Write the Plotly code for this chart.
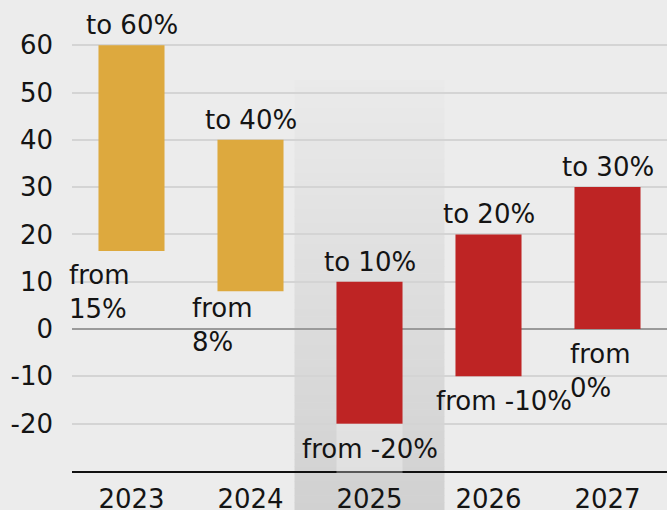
import plotly.graph_objects as go

# ---- data ----
years = ["2023", "2024", "2025", "2026", "2027"]
low_values = [16.5, 8, -20, -10, 0]
high_values = [60, 40, 10, 20, 30]
to_labels = ["to 60%", "to 40%", "to 10%", "to 20%", "to 30%"]
from_labels = ["from<br>15%", "from<br>8%", "from -20%", "from -10%", "from<br>0%"]
bar_colors = ["#DDA93E", "#DDA93E", "#BE2424", "#BE2424", "#BE2424"]
y_ticks = [-20, -10, 0, 10, 20, 30, 40, 50, 60]

# ---- style ----
BG = "#ECECEC"
FONT = "DejaVu Sans"
FS = 26
TXT = "#141414"
Y_MIN, Y_MAX = -30, 69.55
BAR_W = 0.555
highlight_idx = 2
from_anchor = ["left", "left", "center", "center", "left"]
from_dx = [-65, -61, 0, 15, -40]
from_dy = [-7, 0, -8, -8, -8]

fig = go.Figure()
fig.add_trace(go.Bar(
    x=years,
    y=[h - l for h, l in zip(high_values, low_values)],
    base=low_values,
    marker=dict(color=bar_colors, line=dict(width=0)),
    width=BAR_W,
    hoverinfo="skip",
))

# gradient highlight band behind 2025
n_strips = 60
top_px, bot_px = 80, 510
plot_bottom = 471.4
plot_h = plot_bottom
c0, c1 = (234, 234, 234), (209, 209, 209)
band_x0 = (highlight_idx + 0.5 - 0.63) / len(years)
band_x1 = (highlight_idx + 0.5 + 0.63) / len(years)
shapes = []
for i in range(n_strips):
    t = (i + 0.5) / n_strips
    col = tuple(round(a + (b - a) * t) for a, b in zip(c0, c1))
    ya = top_px + (bot_px - top_px) * i / n_strips
    yb = top_px + (bot_px - top_px) * (i + 1) / n_strips + 0.5
    shapes.append(dict(
        type="rect", xref="paper", yref="paper", layer="below",
        x0=band_x0, x1=band_x1,
        y0=(plot_bottom - yb) / plot_h, y1=(plot_bottom - ya) / plot_h,
        fillcolor="rgb(%d,%d,%d)" % col, line=dict(width=0),
    ))
# lighter block under the highlighted bar
shapes.append(dict(
    type="rect", xref="x", yref="paper", layer="above",
    x0=highlight_idx - BAR_W / 2, x1=highlight_idx + BAR_W / 2,
    y0=-0.004, y1=(low_values[highlight_idx] - Y_MIN) / (Y_MAX - Y_MIN),
    fillcolor="rgba(255,255,255,0.3)", line=dict(width=0),
))

annotations = []
for i, yr in enumerate(years):
    annotations.append(dict(
        x=i, y=high_values[i], text=to_labels[i], showarrow=False,
        xanchor="center", yanchor="bottom", yshift=3,
        font=dict(family=FONT, size=FS, color=TXT),
    ))
    annotations.append(dict(
        x=i, y=low_values[i], text=from_labels[i], showarrow=False,
        xanchor=from_anchor[i], yanchor="top", align="left",
        xshift=from_dx[i], yshift=from_dy[i],
        font=dict(family=FONT, size=FS, color=TXT),
    ))

fig.update_layout(
    width=667, height=510,
    margin=dict(l=72, r=0, t=0, b=510 - 471.4, autoexpand=False),
    paper_bgcolor=BG, plot_bgcolor="rgba(0,0,0,0)",
    showlegend=False, bargap=1 - BAR_W,
    shapes=shapes, annotations=annotations,
    font=dict(family=FONT, size=FS, color=TXT),
)
fig.update_xaxes(
    type="category", range=[-0.5, len(years) - 0.5], automargin=False,
    showgrid=False, showline=True, linecolor="#111111", linewidth=1.5,
    ticks="", ticklabelstandoff=4, tickfont=dict(family=FONT, size=FS, color=TXT),
    fixedrange=True,
)
fig.update_yaxes(
    range=[Y_MIN, Y_MAX], tickvals=y_ticks, ticktext=[str(v) for v in y_ticks],
    automargin=False,
    showgrid=True, gridcolor="#D4D4D4", gridwidth=1.5,
    zeroline=True, zerolinecolor="#9A9A9A", zerolinewidth=1.5,
    showline=False, ticks="", ticklabelstandoff=18,
    tickfont=dict(family=FONT, size=FS, color=TXT), fixedrange=True,
)

fig.write_html("out.html", config={"displayModeBar": False},
               post_script="document.body.style.margin='0';")
